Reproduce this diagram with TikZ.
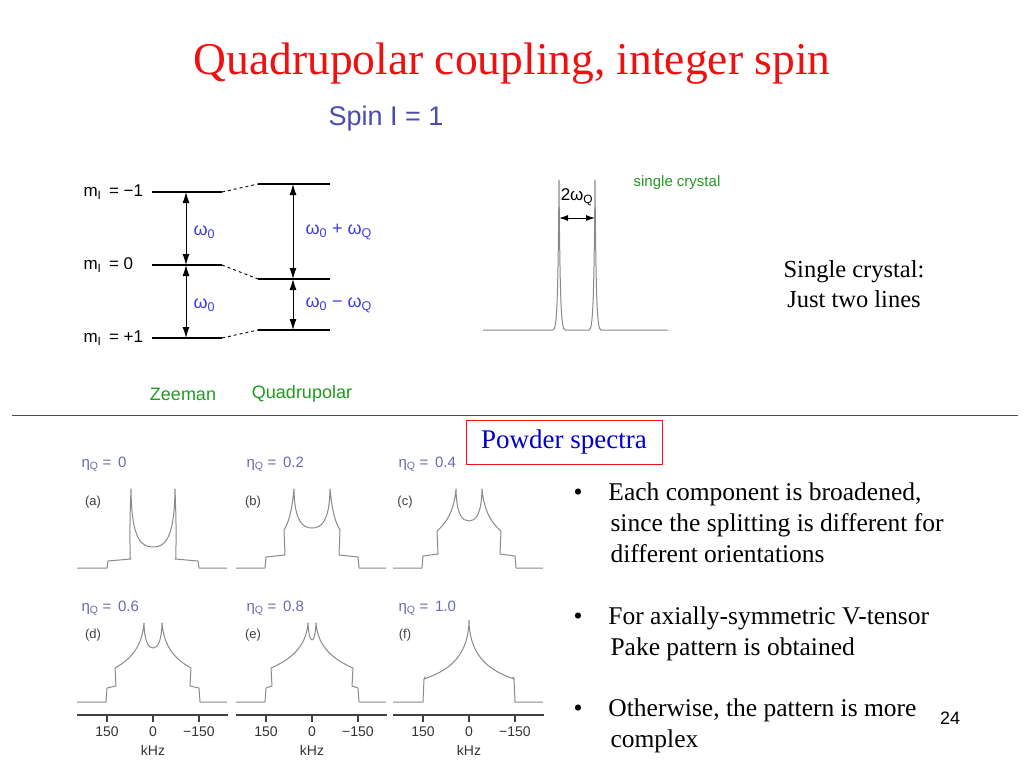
\documentclass[tikz,border=0pt]{standalone}
\usepackage{fontspec}
\setmainfont{Liberation Serif}
\newfontfamily\arialfont{Liberation Sans}
\usetikzlibrary{arrows.meta, positioning}
\definecolor{titlered}{HTML}{F01010}
\definecolor{spinblue}{HTML}{4A4AB0}
\definecolor{omblue}{HTML}{3C3CE0}
\definecolor{zgreen}{HTML}{229922}
\definecolor{etablue}{HTML}{6A6AB0}
\definecolor{specgray}{HTML}{8A8A8A}
\tikzset{
  level/.style = {line width=1.2pt},
  gap/.style = {{Latex[length=11pt,width=7pt]}-{Latex[length=11pt,width=7pt]}, line width=1pt},
  mlab/.style = {font=\arialfont\fontsize{17}{17}\selectfont, anchor=west},
  omlab/.style = {font=\arialfont\fontsize{18}{18}\selectfont, text=omblue, anchor=west},
  glab/.style = {font=\arialfont\fontsize{18}{18}\selectfont, text=zgreen},
  etalab/.style = {font=\arialfont\fontsize{15}{15}\selectfont, text=etablue, anchor=west},
  panlab/.style = {font=\arialfont\fontsize{13}{13}\selectfont, text=black!75},
  axlab/.style = {font=\arialfont\fontsize{14}{14}\selectfont, text=black!80},
  bullet/.style = {font=\fontsize{25.5}{31}\selectfont, anchor=north west, align=left},
  spec/.style = {specgray, line width=1pt, line join=round}
}
% powder line shape: centre, baseline, outer step, step height, inner step, height, peak, dip
\newcommand{\powder}[8]{%
  \draw[spec] ({#1-76},#2) -- ({#1-#3-1},#2) -- ({#1-#3},{#2-#4}) -- ({#1-#5+1},{#2-#4-2})
    -- ({#1-#5},{#2-#6}) .. controls ({#1-(#5+#7)/2},{#2-#6-8}) and ({#1-#7-2},{#2-#6-20}) .. ({#1-#7},{#2-79})
    .. controls ({#1-#7+0.5},{#2-#8-6}) and ({#1-#7/2},{#2-#8}) .. ({#1},{#2-#8})
    .. controls ({#1+#7/2},{#2-#8}) and ({#1+#7-0.5},{#2-#8-6}) .. ({#1+#7},{#2-79})
    .. controls ({#1+#7+2},{#2-#6-20}) and ({#1+(#5+#7)/2},{#2-#6-8}) .. ({#1+#5},{#2-#6})
    -- ({#1+#5-1},{#2-#4-2}) -- ({#1+#3},{#2-#4}) -- ({#1+#3+1},#2) -- ({#1+74},#2);}
\begin{document}
\begin{tikzpicture}[x=1pt, y=-1pt]
\useasboundingbox[fill=white] (0,0) rectangle (1024,768);
% heading
\node[text=titlered, font=\fontsize{45.5}{45.5}\selectfont] (title) at (512,64) {Quadrupolar coupling, integer spin};
\node[text=spinblue, font=\arialfont\fontsize{27}{27}\selectfont] (spin) at (386,119) {Spin I = 1};
% energy levels
\coordinate (zm1a) at (152,192); \coordinate (zm1b) at (222,192);
\coordinate (z0a) at (152,265);  \coordinate (z0b) at (222,265);
\coordinate (zp1a) at (152,338); \coordinate (zp1b) at (222,338);
\coordinate (qm1a) at (258,184); \coordinate (qm1b) at (330,184);
\coordinate (q0a) at (258,279);  \coordinate (q0b) at (330,279);
\coordinate (qp1a) at (258,330); \coordinate (qp1b) at (330,330);
\foreach \lv in {zm1, z0, zp1, qm1, q0, qp1}
  \draw[level] (\lv a) -- (\lv b);
\draw[dashed, line width=0.9pt] (zm1b) -- (qm1a);
\draw[dashed, line width=0.9pt] (z0b) -- (q0a);
\draw[dashed, line width=0.9pt] (zp1b) -- (qp1a);
\node[mlab] (mm1) at (80,192) {m\textsubscript{I} \,= −1};
\node[mlab] (m0) at (80,265) {m\textsubscript{I} \,= 0};
\node[mlab] (mp1) at (80,338) {m\textsubscript{I} \,= +1};
\coordinate (za) at (186,192); \coordinate (zb) at (186,265); \coordinate (zc) at (186,338);
\coordinate (qa) at (293,184); \coordinate (qb) at (293,279); \coordinate (qc) at (293,330);
\draw[gap] (za) -- (zb);
\draw[gap] (zb) -- (zc);
\draw[gap] (qa) -- (qb);
\draw[gap] (qb) -- (qc);
\node[omlab] (om1) at (190,232) {ω\textsubscript{0}};
\node[omlab] (om2) at (190,305) {ω\textsubscript{0}};
\node[omlab] (om3) at (302,232) {ω\textsubscript{0} + ω\textsubscript{Q}};
\node[omlab] (om4) at (302,305) {ω\textsubscript{0} − ω\textsubscript{Q}};
\node[glab] (zeeman) at (183,394) {Zeeman};
\node[glab] (quad) at (302,394) {Quadrupolar};
% single crystal spectrum
\draw[spec] (483,330) -- (553,330) .. controls (557,330) and (558,300) .. (559,180)
  .. controls (560,300) and (561,330) .. (565,330) -- (589,330)
  .. controls (593,330) and (594,300) .. (595,180)
  .. controls (596,300) and (597,330) .. (601,330) -- (668,330);
\coordinate (sca) at (559,218); \coordinate (scb) at (595,218);
\draw[{Latex[length=9pt,width=6pt]}-{Latex[length=9pt,width=6pt]}, line width=1pt] (sca) -- (scb);
\node[font=\arialfont\fontsize{17}{17}\selectfont] (split) at (577,197) {2ω\textsubscript{Q}};
\node[text=zgreen, font=\arialfont\fontsize{15}{15}\selectfont] (sclab) at (677,183) {single crystal};
\node[font=\fontsize{24.5}{30}\selectfont, align=center] (scnote) at (854,284) {Single crystal:\\Just two lines};
% divider
\coordinate (divl) at (12,415); \coordinate (divr) at (1018,415);
\draw[black!70, line width=0.8pt] (divl) -- (divr);
\node[draw=titlered, text=blue!80!black, font=\fontsize{27}{27}\selectfont, minimum width=196, minimum height=44, inner sep=2pt] (powder) at (564,442) {Powder spectra};
% powder panels
\powder{153}{568}{45}{7}{23}{10}{22}{21}
\powder{312}{568}{46}{11}{28}{38}{18}{40}
\powder{469}{568}{46}{12}{32}{37}{13}{47}
\powder{153}{702}{46}{14}{38}{34}{9}{54}
\powder{312}{702}{46}{14}{41}{34}{4}{62}
\powder{469}{702}{45}{23}{45}{23}{0}{79}
\node[etalab] (eta1) at (78,464) {η\textsubscript{Q} =\, 0};
\node[etalab] (eta2) at (243,464) {η\textsubscript{Q} =\, 0.2};
\node[etalab] (eta3) at (395,464) {η\textsubscript{Q} =\, 0.4};
\node[etalab] (eta4) at (78,608) {η\textsubscript{Q} =\, 0.6};
\node[etalab] (eta5) at (243,608) {η\textsubscript{Q} =\, 0.8};
\node[etalab] (eta6) at (395,608) {η\textsubscript{Q} =\, 1.0};
\node[panlab] (pa) at (93,502) {(a)};
\node[panlab] (pb) at (253,502) {(b)};
\node[panlab] (pc) at (405,502) {(c)};
\node[panlab] (pd) at (93,635) {(d)};
\node[panlab] (pe) at (253,635) {(e)};
\node[panlab] (pf) at (405,635) {(f)};
\foreach \cx in {153, 312, 469} {
  \draw[black!75, line width=1.2pt] ({\cx-76},715) -- ({\cx+75},715);
  \foreach \t/\lab in {-46/150, 0/0, 46/−150} {
    \draw[black!75, line width=1.2pt] ({\cx+\t},715) -- ({\cx+\t},722);
    \node[axlab] at ({\cx+\t},732) {\lab};
  }
  \node[axlab] at (\cx,750) {kHz};
}
% bullets
\node[bullet] (b1) at (570,479) {•\hspace{26pt}Each component is broadened,\\\hspace{37pt}since the splitting is different for\\\hspace{37pt}different orientations};
\node[bullet] (b2) at (570,603) {•\hspace{26pt}For axially-symmetric V-tensor\\\hspace{37pt}Pake pattern is obtained};
\node[bullet] (b3) at (570,695) {•\hspace{26pt}Otherwise, the pattern is more\\\hspace{37pt}complex};
\node[font=\arialfont\fontsize{18}{18}\selectfont] (page) at (950,718) {24};
\end{tikzpicture}
\end{document}
